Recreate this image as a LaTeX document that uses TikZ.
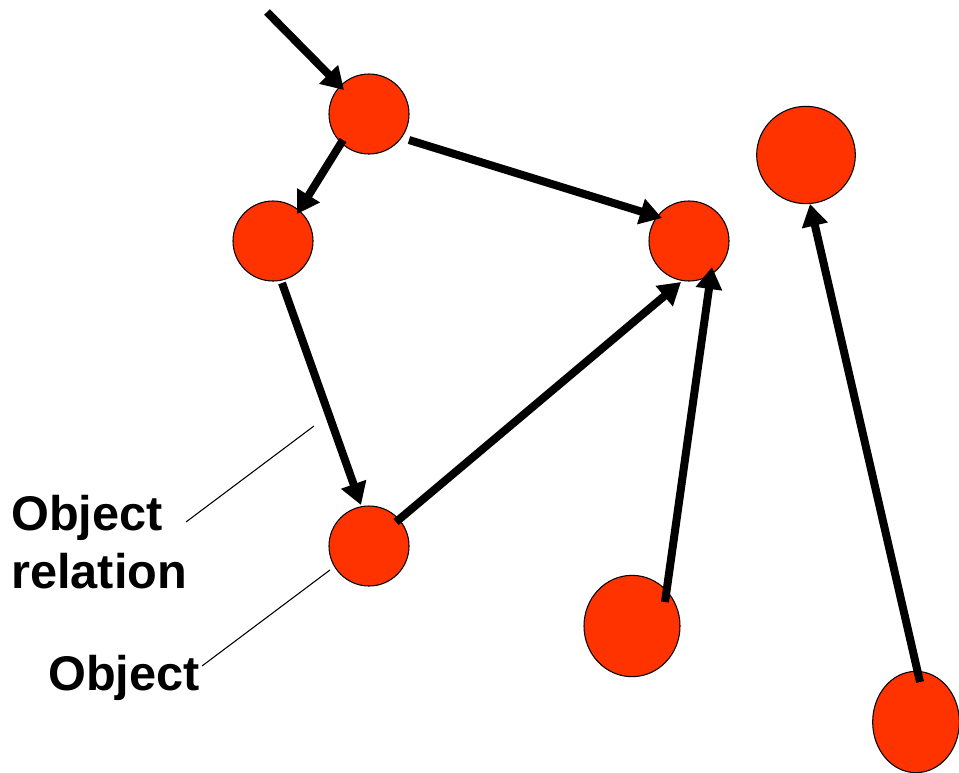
\documentclass[tikz,border=0pt]{standalone}
\usepackage{fontspec}
\setmainfont{Liberation Sans}
\usetikzlibrary{arrows.meta,shapes.geometric,calc}
\definecolor{objred}{HTML}{FF3300}
\tikzset{
  obj/.style={circle,draw=black,line width=0.8pt,fill=objred,minimum size=60pt,inner sep=0pt},
  objE/.style={ellipse,draw=black,line width=0.8pt,fill=objred,inner sep=0pt},
  rel/.style={line width=6pt,-{Triangle[length=16.5pt,width=19pt]}},
  lead/.style={line width=0.8pt},
  lbl/.style={font=\fontsize{36.5}{43}\selectfont\bfseries,inner sep=0pt,align=left}
}
\begin{document}
\begin{tikzpicture}[x=0.75pt,y=-0.75pt]
\useasboundingbox (0,0) rectangle (959,772);
\node[obj] (A) at (369,114) {};
\node[obj] (B) at (273,241) {};
\node[obj] (C) at (689,241) {};
\node[obj] (D) at (369,546) {};
\node[objE,minimum width=74pt,minimum height=73pt] (E) at (806,155) {};
\node[objE,minimum width=72pt,minimum height=76pt] (F) at (632,626) {};
\node[objE,minimum width=65pt,minimum height=76pt] (G) at (916,722) {};
\coordinate (start) at (267,12);
\draw[rel] (start) -- ($(A)+(-25,-24)$);
\draw[rel] ($(A)+(-26,26)$) -- ($(B)+(24,-27)$);
\draw[rel] ($(A)+(40,26)$) -- ($(C)+(-27,-23)$);
\draw[rel] ($(B)+(9,42)$) -- ($(D)+(-8,-41)$);
\draw[rel] ($(D)+(27,-24)$) -- ($(C)+(-8,41)$);
\draw[rel] ($(F)+(33,-24)$) -- ($(C)+(23,26)$);
\draw[rel] ($(G)+(4,-40)$) -- ($(E)+(4,49)$);
\node[lbl,anchor=base west] (lrel) at (11,588) {Object\\relation};
\node[lbl,anchor=base west] (lobj) at (48,690) {Object};
\coordinate (r1) at (186,522);
\coordinate (r2) at (314,426);
\coordinate (o1) at (202,666);
\coordinate (o2) at (330,570);
\draw[lead] (r1) -- (r2);
\draw[lead] (o1) -- (o2);
\end{tikzpicture}
\end{document}
